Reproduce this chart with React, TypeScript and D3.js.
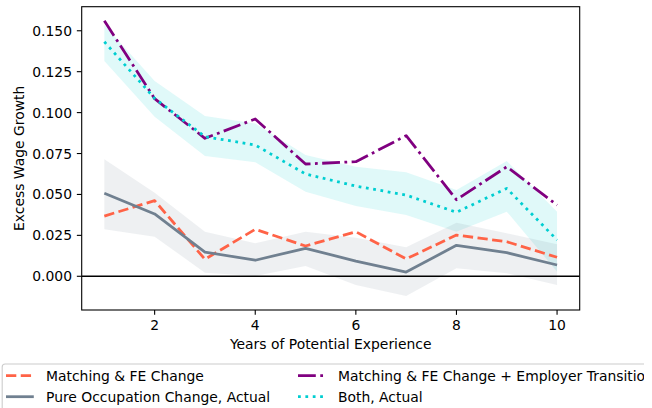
import React from "react";
import * as d3 from "d3";

const years = [1, 2, 3, 4, 5, 6, 7, 8, 9, 10];
const matchingFE = [0.0368, 0.0462, 0.0104, 0.0287, 0.0185, 0.0272, 0.0106, 0.0252, 0.0211, 0.0116];
const pureOcc = [0.0507, 0.0381, 0.0148, 0.0098, 0.0171, 0.0093, 0.0026, 0.0189, 0.0144, 0.0069];
const pureOccLow = [0.0287, 0.0242, 0.0022, 0.0002, 0.0063, -0.0053, -0.012, 0.0049, 0.0018, -0.0053];
const pureOccHigh = [0.0715, 0.0511, 0.0272, 0.0202, 0.0272, 0.0236, 0.0177, 0.0327, 0.0263, 0.0195];
const matchingEmp = [0.1561, 0.1085, 0.0843, 0.0961, 0.0686, 0.07, 0.0859, 0.0468, 0.0669, 0.0435];
const both = [0.1433, 0.1087, 0.0853, 0.0802, 0.0625, 0.0551, 0.0496, 0.0391, 0.0537, 0.0222];
const bothLow = [0.1315, 0.0975, 0.0735, 0.0696, 0.0517, 0.0429, 0.0374, 0.0272, 0.0395, 0.0028];
const bothHigh = [0.1535, 0.1193, 0.0979, 0.0934, 0.0741, 0.0669, 0.0635, 0.0527, 0.0704, 0.0395];
const xTicks = [2, 4, 6, 8, 10];
const yTicks = [0, 0.025, 0.05, 0.075, 0.1, 0.125, 0.15];

const W = 652;
const H = 408;
const L = 81.7, R = 579.7, T = 6.7, B = 310;
const FONT = "DejaVu Sans, sans-serif";
const FS = 13.9;

export default function App() {
  const x = d3.scaleLinear().domain([0.55, 10.45]).range([L, R]);
  const y = d3.scaleLinear().domain([-0.0206, 0.1647]).range([B, T]);
  const line = (vals: number[]) =>
    d3.line<number>().x((_, i) => x(years[i])).y((v) => y(v))(vals) || "";
  const area = (lo: number[], hi: number[]) =>
    d3
      .area<number>()
      .x((_, i) => x(years[i]))
      .y0((_, i) => y(lo[i]))
      .y1((_, i) => y(hi[i]))(years) || "";
  const fmt = d3.format(".3f");
  const lw = 2.78;

  const series = [
    { name: "Matching & FE Change", color: "#FF6347", dash: "10.3 4.45", vals: matchingFE },
    { name: "Pure Occupation Change, Actual", color: "#708090", dash: "", vals: pureOcc },
    { name: "Matching & FE Change + Employer Transition", color: "#800080", dash: "17.8 4.45 2.78 4.45", vals: matchingEmp },
    { name: "Both, Actual", color: "#00CED1", dash: "2.78 4.6", vals: both },
  ];

  const legendPos = [
    { hx: 6, tx: 46, y: 375.7 },
    { hx: 6, tx: 46, y: 396.7 },
    { hx: 298, tx: 338, y: 375.7 },
    { hx: 298, tx: 338, y: 396.7 },
  ];

  return (
    <svg width={W} height={H} style={{ position: "absolute", left: 0, top: 0, background: "#fff" }} fontFamily={FONT}>
      <defs>
        <clipPath id="plotclip">
          <rect x={L} y={T} width={R - L} height={B - T} />
        </clipPath>
        <clipPath id="legclip">
          <rect x={0} y={355} width={644} height={60} />
        </clipPath>
      </defs>
      <rect x={0} y={0} width={W} height={H} fill="#fff" />
      <g clipPath="url(#plotclip)">
        <path d={area(bothLow, bothHigh)} fill="#00CED1" fillOpacity={0.12} />
        <path d={area(pureOccLow, pureOccHigh)} fill="#708090" fillOpacity={0.12} />
        <line x1={L} x2={R} y1={y(0)} y2={y(0)} stroke="#000" strokeWidth={1.39} />
        {series.map((s) => (
          <path
            key={s.name}
            d={line(s.vals)}
            fill="none"
            stroke={s.color}
            strokeWidth={lw}
            strokeDasharray={s.dash || undefined}
            strokeLinecap="butt"
            strokeLinejoin="round"
          />
        ))}
      </g>
      <rect x={L} y={T} width={R - L} height={B - T} fill="none" stroke="#000" strokeWidth={1.1} />
      {xTicks.map((t) => (
        <g key={t}>
          <line x1={x(t)} x2={x(t)} y1={B} y2={B + 4.86} stroke="#000" strokeWidth={1.1} />
          <text x={x(t)} y={B + 9.7} dy="0.76em" textAnchor="middle" fontSize={FS} fill="#000">
            {t}
          </text>
        </g>
      ))}
      {yTicks.map((t) => (
        <g key={t}>
          <line x1={L - 4.86} x2={L} y1={y(t)} y2={y(t)} stroke="#000" strokeWidth={1.1} />
          <text x={L - 9.7} y={y(t)} dy="0.36em" textAnchor="end" fontSize={FS} fill="#000">
            {fmt(t)}
          </text>
        </g>
      ))}
      <text x={(L + R) / 2} y={349} textAnchor="middle" fontSize={FS} fill="#000">
        Years of Potential Experience
      </text>
      <text
        transform={`translate(23.5,${(T + B) / 2}) rotate(-90)`}
        textAnchor="middle"
        fontSize={FS}
        fill="#000"
      >
        Excess Wage Growth
      </text>
      <g clipPath="url(#legclip)">
        <rect x={2.2} y={364} width={700} height={60} rx={3} fill="#fff" fillOpacity={0.8} stroke="#ccc" strokeWidth={1.1} />
        {series.map((s, i) => {
          const p = legendPos[i];
          return (
            <g key={s.name}>
              <line
                x1={p.hx}
                x2={p.hx + 27.8}
                y1={p.y}
                y2={p.y}
                stroke={s.color}
                strokeWidth={lw}
                strokeDasharray={s.dash || undefined}
              />
              <text x={p.tx} y={p.y} dy="0.36em" fontSize={FS} fill="#000">
                {s.name}
              </text>
            </g>
          );
        })}
      </g>
    </svg>
  );
}
